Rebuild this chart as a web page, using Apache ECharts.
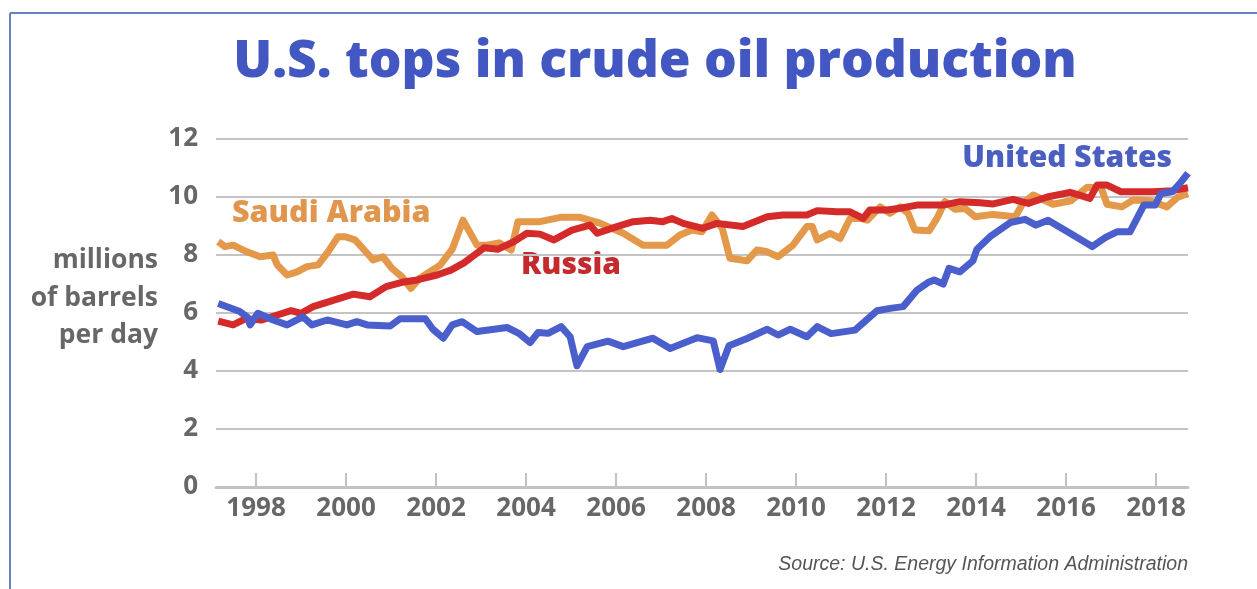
<!DOCTYPE html>
<html>
<head>
<meta charset="utf-8">
<script src="https://cdn.jsdelivr.net/npm/echarts@6/dist/echarts.min.js"></script>
<style>
html,body{margin:0;padding:0;background:#fff;}
#chart{width:1257px;height:589px;}
</style>
</head>
<body>
<div id="chart"></div>
<script>
// ---- data (years as decimal, values in millions of barrels per day) ----
var saudiYears = [1997.16,1997.31,1997.49,1997.80,1998.09,1998.38,1998.47,1998.69,1998.91,1999.13,1999.38,1999.60,1999.82,1999.98,2000.20,2000.47,2000.60,2000.82,2001.02,2001.24,2001.44,2001.64,2002.09,2002.36,2002.60,2002.91,2003.13,2003.40,2003.67,2003.82,2004.31,2004.76,2005.20,2005.64,2006.16,2006.60,2007.13,2007.42,2007.69,2007.91,2008.13,2008.36,2008.53,2008.91,2009.13,2009.36,2009.60,2009.93,2010.24,2010.36,2010.47,2010.76,2010.98,2011.20,2011.42,2011.58,2011.87,2012.09,2012.31,2012.49,2012.64,2012.96,2013.13,2013.31,2013.53,2013.76,2013.98,2014.38,2014.87,2015.04,2015.27,2015.71,2016.11,2016.47,2016.78,2016.91,2017.24,2017.49,2017.87,2018.24,2018.47,2018.71];
var saudiValues = [8.46,8.29,8.34,8.11,7.94,8.00,7.66,7.31,7.42,7.60,7.66,8.11,8.63,8.63,8.52,8.06,7.83,7.94,7.54,7.25,6.85,7.20,7.65,8.20,9.20,8.34,8.34,8.42,8.17,9.15,9.15,9.30,9.30,9.10,8.75,8.34,8.34,8.69,8.86,8.80,9.38,8.92,7.89,7.80,8.17,8.11,7.94,8.34,8.98,8.98,8.52,8.75,8.57,9.26,9.27,9.20,9.66,9.44,9.66,9.44,8.86,8.84,9.26,9.84,9.58,9.60,9.32,9.40,9.32,9.78,10.07,9.75,9.87,10.34,10.32,9.75,9.66,9.90,9.87,9.66,9.98,10.12];

var russiaYears = [1997.16,1997.49,1997.76,1998.13,1998.47,1998.78,1999.00,1999.27,1999.80,2000.16,2000.53,2000.89,2001.24,2001.58,2002.02,2002.33,2002.62,2003.07,2003.38,2003.73,2004.02,2004.31,2004.62,2005.02,2005.42,2005.58,2006.02,2006.38,2006.76,2007.04,2007.24,2007.49,2007.93,2008.24,2008.82,2009.36,2009.71,2010.24,2010.47,2010.91,2011.20,2011.49,2011.64,2012.02,2012.31,2012.69,2013.27,2013.64,2014.09,2014.38,2014.82,2015.16,2015.58,2016.09,2016.53,2016.69,2016.91,2017.22,2017.93,2018.36,2018.71];
var russiaValues = [5.72,5.59,5.80,5.76,5.93,6.08,5.99,6.22,6.48,6.65,6.56,6.91,7.06,7.14,7.31,7.48,7.73,8.25,8.20,8.46,8.75,8.72,8.52,8.86,9.03,8.75,8.98,9.15,9.20,9.15,9.26,9.09,8.92,9.09,8.98,9.32,9.38,9.38,9.53,9.49,9.49,9.26,9.55,9.55,9.61,9.72,9.72,9.84,9.80,9.76,9.92,9.78,10.00,10.16,9.95,10.41,10.41,10.18,10.18,10.22,10.32];

var usYears = [1997.16,1997.64,1997.80,1997.87,1998.04,1998.38,1998.69,1999.04,1999.24,1999.58,2000.02,2000.24,2000.47,2000.98,2001.20,2001.76,2001.93,2002.16,2002.36,2002.58,2002.91,2003.58,2003.84,2004.09,2004.27,2004.49,2004.78,2004.98,2005.13,2005.36,2005.82,2006.16,2006.82,2007.20,2007.80,2008.16,2008.31,2008.51,2008.91,2009.36,2009.60,2009.87,2010.24,2010.47,2010.78,2011.31,2011.80,2012.09,2012.38,2012.69,2012.93,2013.07,2013.27,2013.40,2013.64,2013.93,2014.02,2014.31,2014.76,2015.09,2015.33,2015.60,2016.09,2016.58,2016.87,2017.13,2017.42,2017.73,2017.98,2018.11,2018.36,2018.53,2018.71];
var usValues = [6.33,6.05,5.87,5.59,5.99,5.76,5.59,5.87,5.59,5.76,5.59,5.70,5.59,5.55,5.80,5.80,5.44,5.13,5.59,5.70,5.36,5.50,5.30,4.98,5.33,5.30,5.53,5.18,4.18,4.84,5.03,4.84,5.13,4.78,5.15,5.04,4.05,4.87,5.12,5.44,5.24,5.44,5.18,5.53,5.29,5.41,6.08,6.16,6.22,6.79,7.05,7.14,7.00,7.54,7.42,7.80,8.20,8.63,9.12,9.23,9.03,9.20,8.75,8.29,8.60,8.80,8.80,9.72,9.72,10.12,10.18,10.47,10.82];

var xTickYears = [1998,2000,2002,2004,2006,2008,2010,2012,2014,2016,2018];
var yTicks = [0,2,4,6,8,10,12];

var titleText = 'U.S. tops in crude oil production';
var unitLines = ['millions', 'of barrels', 'per day'];
var seriesNames = ['Saudi Arabia', 'Russia', 'United States'];
var sourceText = 'Source: U.S. Energy Information Administration';

function pairs(xs, ys){ return xs.map(function(x,i){ return [x, ys[i]]; }); }

var FONT = '"Open Sans", "Noto Sans", sans-serif';
var GRAY = '#676767';
var BLUE = '#4a5fcb';
var RED = '#d42a2a';
var ORANGE = '#e3984a';

var chart = echarts.init(document.getElementById('chart'), null, {renderer:'canvas'});
chart.setOption({
  animation: false,
  backgroundColor: '#ffffff',
  grid: {left: 216, right: 69, top: 139, bottom: 102, containLabel: false},
  xAxis: {
    type: 'value', min: 1997.11, max: 2018.71,
    axisLine: {show: true, lineStyle: {color: '#c2c2c2', width: 3}},
    axisTick: {show: true, inside: true, length: 14, customValues: xTickYears, lineStyle: {color: '#c2c2c2', width: 2}},
    axisLabel: {customValues: xTickYears, margin: 9, color: GRAY, fontFamily: FONT, fontWeight: 'bold', fontSize: 26,
      formatter: function(v){ return String(Math.round(v)); }},
    splitLine: {show: false}
  },
  yAxis: {
    type: 'value', min: 0, max: 12, interval: 2,
    axisLine: {show: false}, axisTick: {show: false},
    axisLabel: {margin: 18, color: GRAY, fontFamily: FONT, fontWeight: 'bold', fontSize: 26},
    splitLine: {show: true, lineStyle: {color: '#c4c4c4', width: 2}}
  },
  series: [
    {name: seriesNames[0], type: 'line', data: pairs(saudiYears, saudiValues), showSymbol: false, symbol: 'none',
     lineStyle: {color: ORANGE, width: 7, join: 'round'}, z: 2},
    {name: seriesNames[1], type: 'line', data: pairs(russiaYears, russiaValues), showSymbol: false, symbol: 'none',
     lineStyle: {color: RED, width: 7, join: 'round'}, z: 3},
    {name: seriesNames[2], type: 'line', data: pairs(usYears, usValues), showSymbol: false, symbol: 'none',
     lineStyle: {color: BLUE, width: 7, join: 'round'}, z: 4}
  ],
  graphic: [
    {type: 'line', shape: {x1: 10, y1: 13, x2: 1257, y2: 13}, style: {stroke: '#6a80c0', lineWidth: 2}},
    {type: 'line', shape: {x1: 10, y1: 13, x2: 10, y2: 589}, style: {stroke: '#6a80c0', lineWidth: 2}},
    {type: 'text', x: 655, y: 62, style: {text: titleText, fill: '#4257c2', font: '800 51.5px ' + FONT, textAlign: 'center', textVerticalAlign: 'middle'}},
    {type: 'text', x: 158, y: 260, style: {text: unitLines[0], fill: GRAY, font: 'bold 26.5px ' + FONT, textAlign: 'right', textVerticalAlign: 'middle'}},
    {type: 'text', x: 158, y: 298, style: {text: unitLines[1], fill: GRAY, font: 'bold 26.5px ' + FONT, textAlign: 'right', textVerticalAlign: 'middle'}},
    {type: 'text', x: 158, y: 335, style: {text: unitLines[2], fill: GRAY, font: 'bold 26.5px ' + FONT, textAlign: 'right', textVerticalAlign: 'middle'}},
    {type: 'text', x: 232, y: 213, style: {text: seriesNames[0], fill: '#e0964d', font: '800 30.5px ' + FONT, textAlign: 'left', textVerticalAlign: 'middle'}},
    {type: 'text', x: 521, y: 265, style: {text: seriesNames[1], fill: '#c42a2e', font: '800 30px ' + FONT, textAlign: 'left', textVerticalAlign: 'middle'}},
    {type: 'text', x: 1172, y: 158, style: {text: seriesNames[2], fill: '#4a5fc0', font: '800 30px ' + FONT, textAlign: 'right', textVerticalAlign: 'middle'}},
    {type: 'text', x: 1188, y: 565, style: {text: sourceText, fill: '#555', font: 'italic 19.5px "Liberation Sans", sans-serif', textAlign: 'right', textVerticalAlign: 'middle'}}
  ]
});
</script>
</body>
</html>
